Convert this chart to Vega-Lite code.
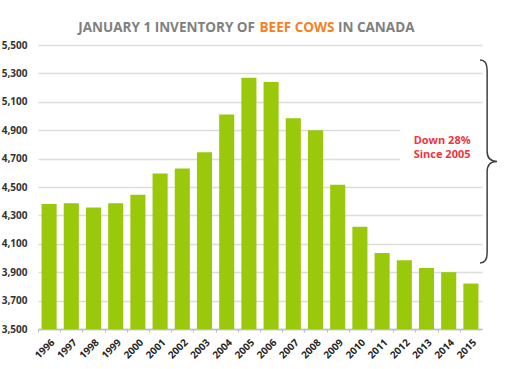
{
  "$schema": "https://vega.github.io/schema/vega-lite/v6.json",
  "width": 444,
  "height": 284,
  "autosize": {"type": "none"},
  "padding": {"left": 38, "top": 45, "right": 24, "bottom": 40},
  "background": "white",
  "config": {"view": {"stroke": null}, "font": "Open Sans"},
  "resolve": {"axis": {"x": "independent", "y": "independent"}, "scale": {"x": "shared", "y": "shared"}},
  "data": {"values": [
    {"year": "1996", "cows": 4380},
    {"year": "1997", "cows": 4385},
    {"year": "1998", "cows": 4355},
    {"year": "1999", "cows": 4385},
    {"year": "2000", "cows": 4445},
    {"year": "2001", "cows": 4595},
    {"year": "2002", "cows": 4630},
    {"year": "2003", "cows": 4745},
    {"year": "2004", "cows": 5010},
    {"year": "2005", "cows": 5270},
    {"year": "2006", "cows": 5240},
    {"year": "2007", "cows": 4985},
    {"year": "2008", "cows": 4900},
    {"year": "2009", "cows": 4515},
    {"year": "2010", "cows": 4220},
    {"year": "2011", "cows": 4035},
    {"year": "2012", "cows": 3985},
    {"year": "2013", "cows": 3930},
    {"year": "2014", "cows": 3900},
    {"year": "2015", "cows": 3820}
  ]},
  "layer": [
    {
      "mark": {"type": "bar", "color": "#99c90a"},
      "encoding": {
        "x": {"field": "year", "type": "ordinal",
              "scale": {"paddingInner": 0.32, "paddingOuter": 0.16},
              "axis": {"title": null, "labelAngle": -45, "labelAlign": "right", "labelBaseline": "top",
                       "labelPadding": 5, "labelFontSize": 10, "labelFontWeight": "bold", "labelColor": "#262626",
                       "tickOffset": -11.1, "labelOffset": 11.1, "tickSize": 3, "tickColor": "#b4bccf",
                       "domainColor": "#b4bccf", "domainWidth": 1.5, "grid": false, "labelOverlap": false}},
        "y": {"field": "cows", "type": "quantitative",
              "scale": {"domain": [3500, 5500], "nice": false, "zero": false},
              "axis": {"title": null, "values": [3500, 3700, 3900, 4100, 4300, 4500, 4700, 4900, 5100, 5300, 5500],
                       "format": ",.0f", "domain": false, "ticks": false, "labelPadding": 11, "labelOverlap": false,
                       "labelFontSize": 10, "labelFontWeight": "bold", "labelColor": "#333333",
                       "gridColor": "#dcdcdc", "gridWidth": 1.5}},
        "y2": {"datum": 3500}
      }
    },
    {
      "transform": [{"filter": "datum.year >= '2012'"}],
      "mark": {"type": "bar", "color": "white", "width": {"band": 1.47}, "xOffset": 7},
      "encoding": {
        "x": {"field": "year", "type": "ordinal", "axis": null},
        "y": {"datum": 4600, "type": "quantitative", "axis": null},
        "y2": {"datum": 5000}
      }
    },
    {
      "data": {"values": [{}]},
      "mark": {"type": "text", "text": ["Down 28%", "Since 2005"], "color": "#f0353f", "fontWeight": "bold",
               "fontSize": 11, "lineHeight": 14, "align": "center", "baseline": "alphabetic", "dx": -6.6},
      "encoding": {"x": {"datum": "2014", "type": "ordinal", "axis": null}, "y": {"datum": 4800, "type": "quantitative", "axis": null}}
    },
    {
      "data": {"values": [{}]},
      "mark": {"type": "text", "text": "JANUARY 1 INVENTORY OF", "color": "#7f7f7f", "fontWeight": "bold",
               "fontSize": 13.5, "align": "right", "baseline": "alphabetic", "dx": -38.3, "dy": -13},
      "encoding": {"x": {"datum": "2007", "type": "ordinal", "axis": null}, "y": {"datum": 5500, "type": "quantitative", "axis": null}}
    },
    {
      "data": {"values": [{}]},
      "mark": {"type": "text", "text": "BEEF COWS", "color": "#f7801f", "fontWeight": "bold",
               "fontSize": 13.5, "align": "center", "baseline": "alphabetic", "dx": 3.7, "dy": -13},
      "encoding": {"x": {"datum": "2007", "type": "ordinal", "axis": null}, "y": {"datum": 5500, "type": "quantitative", "axis": null}}
    },
    {
      "data": {"values": [{}]},
      "mark": {"type": "text", "text": "IN CANADA", "color": "#7f7f7f", "fontWeight": "bold",
               "fontSize": 13.5, "align": "left", "baseline": "alphabetic", "dx": 44.7, "dy": -13},
      "encoding": {"x": {"datum": "2007", "type": "ordinal", "axis": null}, "y": {"datum": 5500, "type": "quantitative", "axis": null}}
    },
    {
      "data": {"values": [{}]},
      "mark": {"type": "point", "filled": false, "stroke": "#404040", "strokeWidth": 1.5, "opacity": 1, "size": 41209,
               "shape": "M 0.09 -1 C 0.14 -1 0.16 -0.97 0.16 -0.9 L 0.16 -0.1 C 0.16 -0.03 0.19 0 0.257 0 C 0.19 0 0.16 0.03 0.16 0.1 L 0.16 0.9 C 0.16 0.97 0.14 1 0.09 1"},
      "encoding": {"x": {"datum": "2015", "type": "ordinal", "axis": null}, "y": {"datum": 4680, "type": "quantitative", "axis": null}}
    }
  ]
}
